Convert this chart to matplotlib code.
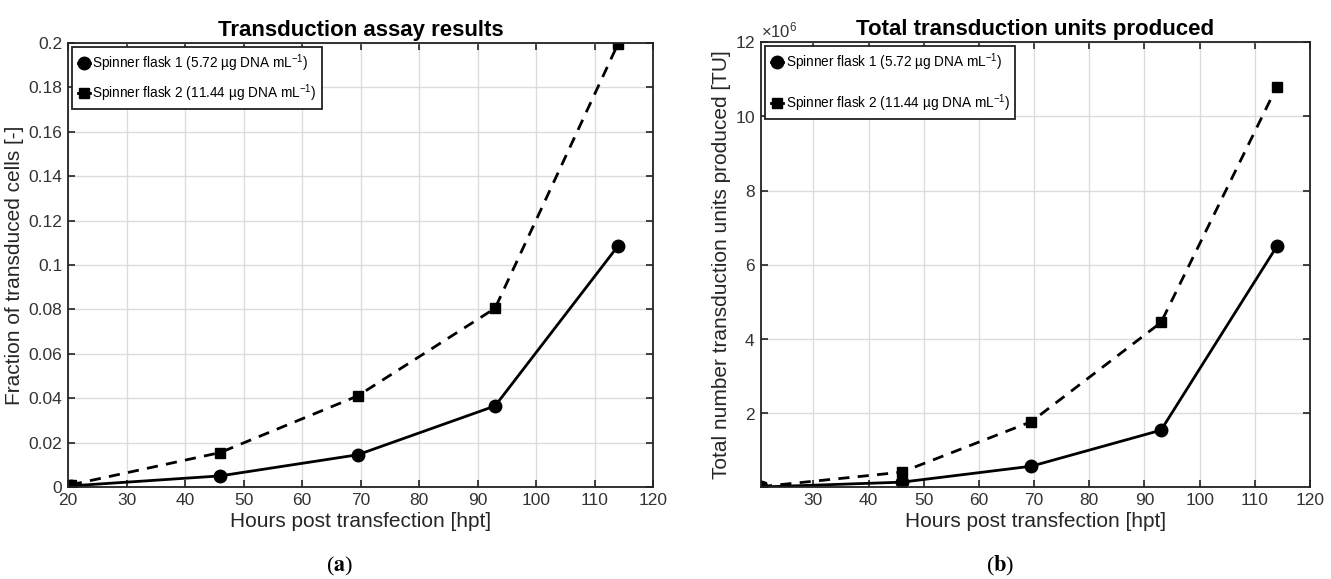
import matplotlib
matplotlib.use("Agg")
import matplotlib.pyplot as plt
from matplotlib.ticker import FuncFormatter, MultipleLocator

plt.rcParams['font.family'] = ['Liberation Sans', 'DejaVu Sans']
plt.rcParams['mathtext.fontset'] = 'custom'
plt.rcParams['mathtext.rm'] = 'Liberation Sans'
plt.rcParams['mathtext.it'] = 'Liberation Sans:italic'
plt.rcParams['mathtext.bf'] = 'Liberation Sans:bold'

# ---- data ----
hours = [20.5, 46, 69.5, 93, 114]
frac_flask1 = [0.0005, 0.005, 0.0145, 0.0365, 0.1085]
frac_flask2 = [0.001, 0.0155, 0.041, 0.0805, 0.1995]
tu_flask1 = [0.02e6, 0.15e6, 0.58e6, 1.55e6, 6.5e6]
tu_flask2 = [0.03e6, 0.42e6, 1.78e6, 4.45e6, 10.8e6]
label1 = 'Spinner flask 1 (5.72 µg DNA mL$^{-1}$)'
label2 = 'Spinner flask 2 (11.44 µg DNA mL$^{-1}$)'
titles = ['Transduction assay results', 'Total transduction units produced']
ylabels = ['Fraction of transduced cells [-]', 'Total number transduction units produced [TU]']
xlabel = 'Hours post transfection [hpt]'
panel_labels = ['a', 'b']

W, H = 1331, 579
fig = plt.figure(figsize=(W / 100, H / 100), dpi=100)

def rect(l, t, r, b):
    return [l / W, 1 - b / H, (r - l) / W, (b - t) / H]

ax1 = fig.add_axes(rect(68, 43, 653, 487))
ax2 = fig.add_axes(rect(761, 42, 1310, 487))

tick_col = '#333333'
lab_col = '#262626'

def style(ax):
    ax.grid(True, color='#dcdcdc', linewidth=1.0)
    ax.set_axisbelow(True)
    for s in ax.spines.values():
        s.set_color('#222222')
        s.set_linewidth(1.3)
    ax.tick_params(direction='in', top=True, right=True, length=5, width=1.2,
                   labelsize=12.5, labelcolor=tick_col, color='#222222', pad=4)

def draw(ax, y1, y2, spacing):
    ax.plot(hours, y1, '-', color='black', lw=2.0, marker='o', ms=9, label=label1)
    ax.plot(hours, y2, color='black', lw=2.0, dashes=(4, 3), marker='s', ms=7, label=label2)
    leg = ax.legend(loc='upper left', fontsize=9.8, handlelength=0.9, handletextpad=0.2,
                    borderpad=0.4, labelspacing=spacing, borderaxespad=0.3,
                    fancybox=False, framealpha=1, edgecolor='#222222')
    leg.get_frame().set_linewidth(1.3)
    for h in leg.legend_handles:
        h.set_linestyle('-')

# Left panel
draw(ax1, frac_flask1, frac_flask2, 0.6)
style(ax1)
ax1.set_xlim(20, 120)
ax1.set_ylim(0, 0.2)
ax1.xaxis.set_major_locator(MultipleLocator(10))
ax1.yaxis.set_major_locator(MultipleLocator(0.02))
ax1.yaxis.set_major_formatter(FuncFormatter(lambda v, p: '%g' % round(v, 4)))
ax1.set_title(titles[0], fontsize=16, fontweight='bold', pad=5)
ax1.set_xlabel(xlabel, fontsize=15, color=lab_col, labelpad=3)
ax1.set_ylabel(ylabels[0], fontsize=15, color=lab_col, labelpad=3)

# Right panel
draw(ax2, tu_flask1, tu_flask2, 1.4)
style(ax2)
ax2.set_xlim(hours[0], 120)
ax2.set_ylim(tu_flask1[0], 12e6)
ax2.set_xticks(range(30, 121, 10))
ax2.set_yticks([2e6, 4e6, 6e6, 8e6, 10e6, 12e6])
ax2.ticklabel_format(axis='y', style='sci', scilimits=(6, 6), useMathText=True)
ax2.yaxis.get_offset_text().set_fontsize(12)
ax2.yaxis.get_offset_text().set_color(tick_col)
ax2.set_title(titles[1], fontsize=16, fontweight='bold', pad=5)
ax2.set_xlabel(xlabel, fontsize=15, color=lab_col, labelpad=3)
ax2.set_ylabel(ylabels[1], fontsize=15, color=lab_col, labelpad=3)

# Panel labels
for cx, p in zip([340 / W, 1000 / W], panel_labels):
    fig.text(cx, 1 - 566 / H, '($\\mathbf{' + p + '}$)', ha='center', va='center',
             fontsize=16, family='Liberation Serif', math_fontfamily='stix')

fig.savefig('out.png', dpi=100)
